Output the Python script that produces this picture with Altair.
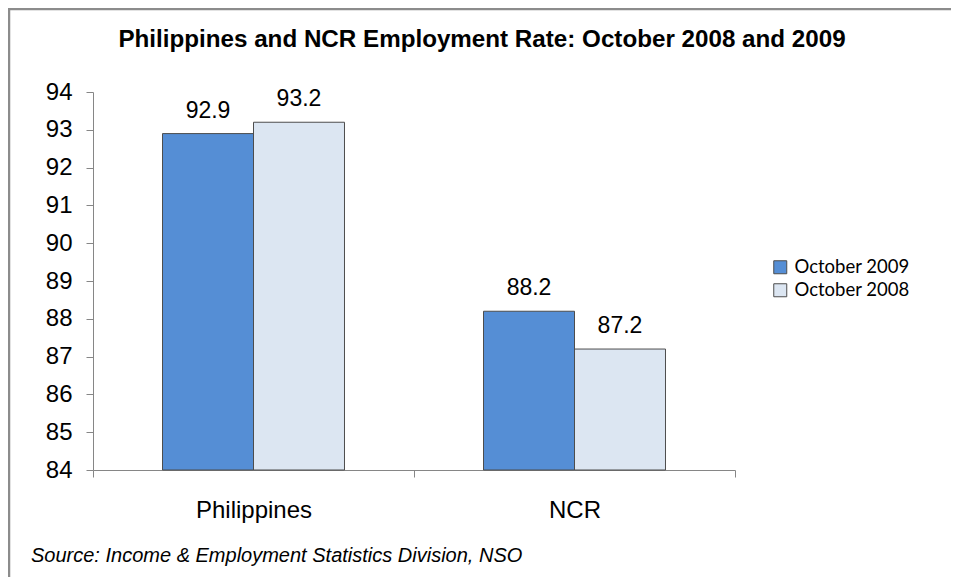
import altair as alt
import pandas as pd

regions = ["Philippines", "NCR"]
series = ["October 2009", "October 2008"]
rate_2009 = [92.9, 88.2]
rate_2008 = [93.2, 87.2]
y_ticks = [84, 85, 86, 87, 88, 89, 90, 91, 92, 93, 94]
title_text = "Philippines and NCR Employment Rate: October 2008 and 2009"
source_note = "Source: Income & Employment Statistics Division, NSO"
colors = ["#558ED5", "#DCE6F2"]

rows = []
for i, r in enumerate(regions):
    rows.append({"region": r, "series": series[0], "rate": rate_2009[i]})
    rows.append({"region": r, "series": series[1], "rate": rate_2008[i]})
df = pd.DataFrame(rows)

AX = "#868686"
FONT = "Liberation Sans"

x = alt.X("region:N", sort=regions, title=None,
          scale=alt.Scale(paddingInner=0, paddingOuter=0),
          axis=alt.Axis(tickBand="extent", labelAngle=0, labelFontSize=24,
                        labelFont=FONT, labelColor="black", labelPadding=21,
                        tickSize=7, tickColor=AX, domainColor=AX, grid=False))
xo = alt.XOffset("series:N", sort=series,
                 scale=alt.Scale(paddingInner=0, paddingOuter=0.764))
y = alt.Y("rate:Q", title=None,
          scale=alt.Scale(domain=[84, 94], zero=False, nice=False),
          axis=alt.Axis(values=y_ticks, labelFontSize=24, labelFont=FONT,
                        labelColor="black", labelPadding=14, tickSize=7,
                        labelOverlap=False,
                        tickColor=AX, domainColor=AX, grid=False))
color = alt.Color("series:N", sort=series,
                  scale=alt.Scale(domain=series, range=colors),
                  legend=alt.Legend(title=None, orient="none", legendX=678,
                                    legendY=166, symbolType="square",
                                    symbolSize=169, symbolStrokeColor="#4d4d4d",
                                    symbolStrokeWidth=1, labelFont="Lato",
                                    labelFontSize=18.5, labelColor="black",
                                    rowPadding=4, labelOffset=5))

bars = alt.Chart(df).mark_bar(stroke="#4d4d4d", strokeWidth=1).encode(
    x=x, xOffset=xo, y=y, y2=alt.datum(84), color=color)

labels = alt.Chart(df).mark_text(baseline="alphabetic", dy=-16, font=FONT,
                                 fontSize=23, color="black").encode(
    x=x, xOffset=xo, y=y, text=alt.Text("rate:Q", format=".1f"))

one = pd.DataFrame({"a": [0]})
frame = alt.Chart(one).mark_rect(fillOpacity=0, stroke="#8c8c8c",
                                 strokeWidth=2.5).encode(
    x=alt.value(-84), y=alt.value(-83), x2=alt.value(900), y2=alt.value(520))

source = alt.Chart(one).mark_text(align="left", baseline="alphabetic",
                                  font=FONT, fontSize=20, fontStyle="italic",
                                  color="black").encode(
    x=alt.value(-62), y=alt.value(470), text=alt.value(source_note))

chart = alt.layer(frame, bars, labels, source).properties(
    width=642, height=378,
    title=alt.Title(title_text, font=FONT, fontSize=24.2, fontWeight="bold",
                    color="black", anchor="middle", frame="group", dx=68,
                    baseline="alphabetic", offset=-63),
    autosize=alt.AutoSizeParams(type="none"),
    padding={"left": 85, "top": 84, "right": 216, "bottom": 107},
).configure_view(strokeWidth=0)

chart.save("out.html", embed_options={"renderer": "svg", "actions": False})
